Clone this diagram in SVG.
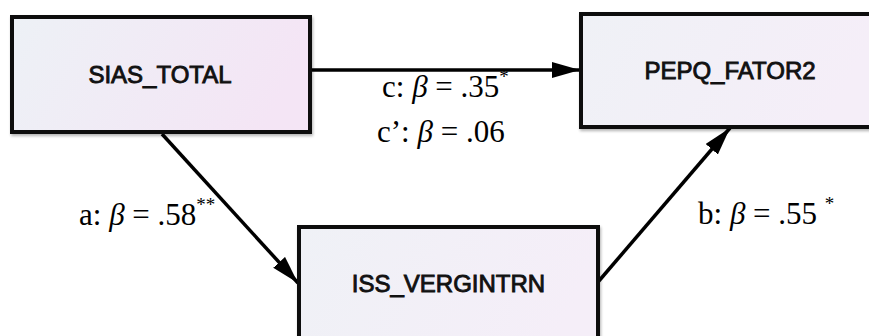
<svg xmlns="http://www.w3.org/2000/svg" width="869" height="336" viewBox="0 0 869 336">
<style>
.box{stroke:#111;stroke-width:4}
.nt{font-family:"Liberation Sans",Arial,sans-serif;font-size:24px;fill:#111;stroke:#111;stroke-width:0.9;text-anchor:middle}
.lb{font-family:"Liberation Serif","Times New Roman",serif;font-size:31px;fill:#000}
.lb .i{font-style:italic}
.sup{font-size:19px}
.edge{stroke:#000;stroke-width:3.5;fill:none}
</style>
<defs>
<linearGradient id="g1" x1="0" y1="0" x2="1" y2="0.2">
<stop offset="0" stop-color="#edf1f6"/>
<stop offset="1" stop-color="#f4e5f5"/>
</linearGradient>
<linearGradient id="g2" x1="0" y1="0" x2="1" y2="0.2">
<stop offset="0" stop-color="#eff1f6"/>
<stop offset="1" stop-color="#f5eef8"/>
</linearGradient>
<marker id="ah" markerUnits="userSpaceOnUse" markerWidth="30" markerHeight="18" refX="28" refY="8" orient="auto">
<path d="M0,0 L28,8 L0,16 Z" fill="#000"/>
</marker>
<filter id="sh" x="-5%" y="-5%" width="110%" height="115%">
<feGaussianBlur in="SourceAlpha" stdDeviation="1.5"/>
<feOffset dx="1" dy="2" result="b"/>
<feComponentTransfer><feFuncA type="linear" slope="0.3"/></feComponentTransfer>
<feMerge><feMergeNode/><feMergeNode in="SourceGraphic"/></feMerge>
</filter>
</defs>
<g id="connectors">
<line class="edge" x1="312" y1="70" x2="580" y2="70" marker-end="url(#ah)"/>
<line class="edge" x1="162" y1="134" x2="298" y2="283" marker-end="url(#ah)"/>
<line class="edge" x1="598" y1="282" x2="730" y2="128" marker-end="url(#ah)"/>
</g>
<g id="SIAS_TOTAL">
<rect class="box" x="12" y="17" width="298" height="115" fill="url(#g1)" filter="url(#sh)"/>
<text class="nt" x="160" y="83">SIAS_TOTAL</text>
</g>
<g id="PEPQ_FATOR2">
<rect class="box" x="581" y="14" width="292" height="113" fill="url(#g2)" filter="url(#sh)"/>
<text class="nt" x="730" y="79">PEPQ_FATOR2</text>
</g>
<g id="ISS_VERGINTRN">
<rect class="box" x="299" y="227" width="299" height="130" fill="url(#g2)" filter="url(#sh)"/>
<text class="nt" x="448.5" y="292">ISS_VERGINTRN</text>
</g>
<g id="labels">
<text class="lb" x="382" y="97">c: <tspan class="i">β</tspan> = .35<tspan class="sup" dy="-14">*</tspan></text>
<text class="lb" x="377" y="142">c’: <tspan class="i">β</tspan> = .06</text>
<text class="lb" x="79" y="225">a: <tspan class="i">β</tspan> = .58<tspan class="sup" dy="-14">**</tspan></text>
<text class="lb" x="698" y="224">b: <tspan class="i">β</tspan> = .55 <tspan class="sup" dy="-14">*</tspan></text>
</g>
</svg>
